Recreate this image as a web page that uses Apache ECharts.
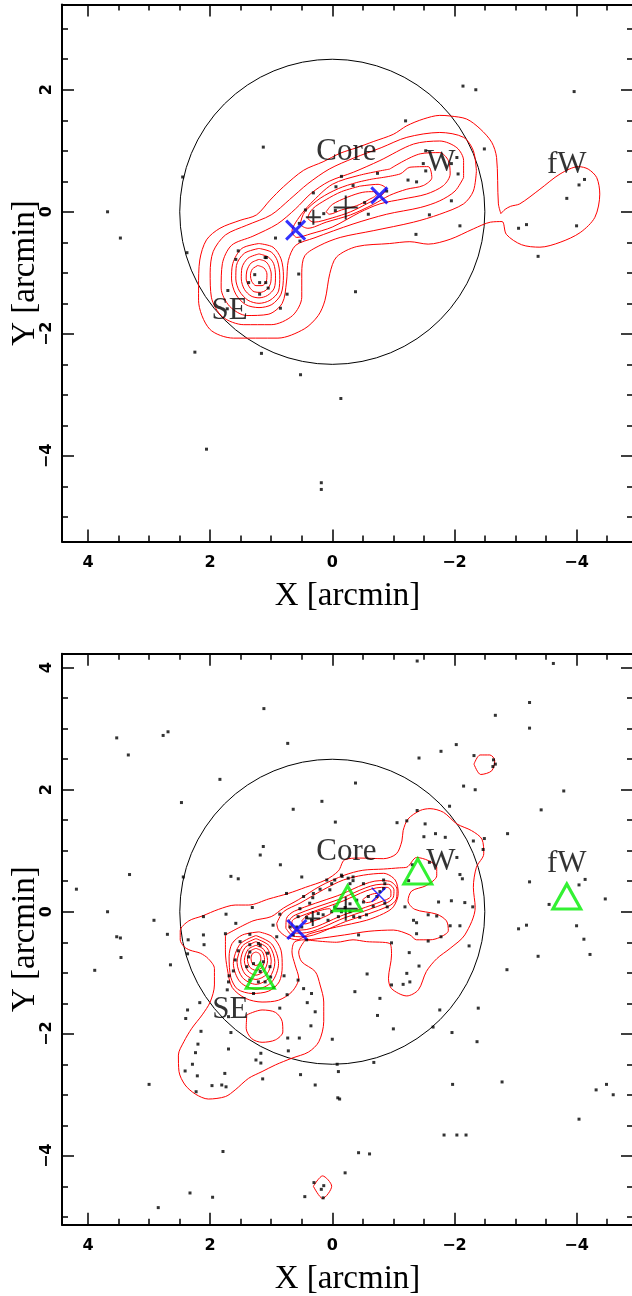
<!DOCTYPE html>
<html lang="en">
<head>
<meta charset="UTF-8">
<title>Core / W / fW / SE maps</title>
<script src="https://cdn.jsdelivr.net/npm/echarts@6/dist/echarts.min.js"></script>
<style>
  html, body { margin: 0; padding: 0; background: #fff; }
  #main { width: 632px; height: 1296px; }
</style>
</head>
<body>
<div id="main"></div>
<script>
// axis limits and ticks, arcmin
var xLimits = [-4.924, 4.426];
var yLimitsTop = [-5.403, 3.397];
var yLimitsBottom = [-5.13, 4.23];
var xMajorTicks = [-4, -2, 0, 2, 4];
var xMinorTicks = [-4.5, -3.5, -3, -2.5, -1.5, -1, -0.5, 0.5, 1, 1.5, 2.5, 3, 3.5];
var yMajorTicksTop = [-4, -2, 0, 2];
var yMinorTicksTop = [-5, -4.5, -3.5, -3, -2.5, -1.5, -1, -0.5, 0.5, 1, 1.5, 2.5, 3];
var yMajorTicksBottom = [-4, -2, 0, 2, 4];
var yMinorTicksBottom = [-5, -4.5, -3.5, -3, -2.5, -1.5, -1, -0.5, 0.5, 1, 1.5, 2.5, 3, 3.5];

var circleCenter = [0, 0];
var circleRadius = 2.5;

// galaxies, upper map
var dotsTop = [
  [1.13,1.06],[2.45,0.57],[3.68,0.0],[3.47,-0.43],[2.38,-0.67],[0.31,0.31],[-0.06,0.41],[-0.15,0.58],
  [0.44,0.03],[0.14,-0.03],[-0.05,0.02],[0.54,-0.19],[0.53,-0.48],[0.93,-0.43],[1.54,-0.64],[1.58,-0.78],
  [1.1,-0.75],[1.08,-0.75],[1.27,-1.03],[1.19,-1.16],[1.09,-1.16],[1.05,-1.25],[1.37,-1.16],[1.71,-1.29],
  [1.19,-1.35],[0.74,-1.35],[0.55,-1.02],[-1.2,1.49],[-2.49,1.03],[-1.53,1.0],[-2.04,0.89],[-1.49,0.79],
  [-1.95,0.79],[-1.53,0.67],[-2.06,0.62],[-0.74,0.63],[-1.24,0.52],[-1.38,0.49],[-0.34,0.43],[-0.89,0.34],
  [-1.95,0.18],[-0.53,0.15],[-0.59,-0.04],[-1.59,-0.05],[-2.09,-0.23],[-1.37,-0.37],[-0.38,-1.31],[0.85,-1.58],
  [1.72,-1.59],[-2.14,2.06],[-2.35,2.0],[-3.96,1.97],[-3.84,0.22],[-4.04,0.44],[-4.13,0.53],[-4.0,-0.23],
  [-3.05,-0.27],[-3.18,-0.21],[-3.37,-0.73],[2.25,-2.3],[1.16,-2.32],[0.52,-2.67],[-0.14,-3.06],[2.06,-3.89],
  [0.18,-4.44],[0.18,-4.55]
];

// galaxies, lower map
var dotsBottom = [
  [-0.38,2.11],[-2.15,2.06],[-2.34,2.0],[2.47,1.79],[0.17,1.81],[0.64,1.68],[-1.92,1.73],[-0.05,1.47],
  [-1.06,1.46],[-1.22,1.49],[-1.52,1.44],[-1.69,1.28],[-1.5,1.23],[-1.85,1.22],[-2.31,1.16],[-2.49,1.2],
  [-2.47,1.02],[1.13,1.07],[1.18,0.93],[0.85,0.77],[1.66,0.58],[1.54,0.54],[0.5,0.57],[2.44,0.57],
  [-2.09,0.61],[-2.13,0.54],[-0.34,0.57],[-0.16,0.58],[2.92,-0.14],[2.7,-0.37],[2.65,-0.87],[2.11,-0.08],
  [2.11,-0.38],[1.74,-0.04],[1.58,-0.19],[1.75,-0.36],[1.31,0.07],[1.35,-0.37],[1.35,-0.54],[1.21,-0.52],
  [0.97,-0.22],[0.86,-0.04],[0.91,-0.41],[0.75,0.3],[0.47,0.25],[0.31,0.3],[0.09,0.52],[-0.15,0.6],
  [0.01,0.46],[-0.29,0.46],[-0.86,0.46],[-1.19,0.08],[-1.74,0.16],[-1.95,0.18],[-2.17,0.15],[-2.3,0.08],
  [-1.57,-0.05],[-1.71,-0.07],[-1.33,-0.14],[-1.38,-0.18],[-1.93,-0.23],[-2.09,-0.23],[-0.97,-0.51],[-1.38,-0.36],
  [-1.57,-0.48],[-1.78,-0.41],[-1.26,-0.67],[-0.43,-0.38],[-1.22,-1.01],[-1.27,-1.15],[-1.16,-1.19],[-0.97,-1.2],
  [-0.57,-1.02],[-0.37,-1.31],[-0.78,-1.42],[-2.39,-1.58],[-1.76,-1.61],[0.41,-1.49],[0.86,-1.58],[0.34,-1.34],
  [0.56,-1.12],[0.79,-1.05],[0.47,-1.26],[1.72,-1.28],[1.7,-1.15],[1.69,-1.05],[2.17,-1.49],[2.37,-1.61],
  [2.4,-1.75],[1.51,-0.49],[1.35,-0.66],[1.18,-0.55],[1.06,-0.68],[1.37,-0.74],[1.29,-0.85],[1.4,-0.9],
  [1.13,-0.82],[1.02,-0.9],[1.18,-0.98],[1.1,-1.15],[1.21,-1.15],[1.35,-1.12],[1.01,-1.07],[1.29,-1.34],
  [0.96,-1.24],[1.59,-0.79],[1.62,-0.97],[1.54,-0.64],[0.42,-0.09],[0.56,-0.08],[0.58,-0.25],[0.5,-0.25],
  [0.34,-0.14],[0.23,-0.03],[0.15,-0.05],[0.01,0.0],[-0.04,0.08],[-0.21,0.07],[-0.29,0.13],[-0.4,0.19],
  [-0.51,0.16],[-0.59,0.25],[-0.29,0.0],[-0.35,-0.08],[-0.45,-0.09],[-0.56,-0.05],[-0.67,0.09],[-0.73,0.25],
  [-0.78,0.33],[-0.84,0.38],[-0.86,0.14],[-0.9,0.08],[-0.51,0.46],[-0.84,0.52],[-0.15,0.0],[-0.1,-0.08],
  [-0.34,0.51],[-0.04,0.52],[-0.26,0.55],[0.04,0.36],[0.2,0.37],[0.32,0.23],[0.37,0.14],[0.53,0.05],
  [0.69,-0.25],[0.64,-0.38],[0.42,-0.46],[0.07,-0.14],[-1.39,1.66],[-2.04,0.89],[-1.31,0.77],[-1.59,0.81],
  [-1.25,0.51],[2.36,-0.46],[2.1,-0.54],[2.37,-0.69],[1.7,-1.72],[0.28,-1.64],[0.74,-1.36],[-2.24,-0.56],
  [-1.42,-0.89],[-0.74,-1.7],
  [1.12,3.33],[3.53,2.85],[2.77,2.89],[2.69,2.95],[3.34,2.57],[0.73,2.76],[1.84,2.17],[3.32,0.61],
  [4.19,0.37],[3.68,0.0],[3.53,-0.41],[3.47,-0.43],
  [-1.39,4.11],[-3.62,4.07],[-3.23,3.43],[-3.23,3.01],[-2.67,3.22],[-2.03,2.74],[-1.78,2.63],[-1.42,2.52],
  [-2.32,2.56],[-2.64,2.49],[-2.67,2.42],[-2.63,2.38],[-3.79,1.98],[-2.87,1.28],[-3.42,1.67],[-3.23,0.49],
  [-4.04,0.44],[-4.14,0.53],[-4.47,0.21],[-3.55,0.12],[-3.05,-0.28],[-3.18,-0.22],[-4.0,-0.23],[-4.12,-0.45],
  [3.46,-0.75],[3.89,-0.96],[2.15,-1.96],[2.2,-2.17],[2.24,-2.31],[2.29,-2.5],[2.41,-2.61],[2.21,-2.69],
  [2.23,-2.95],[3.0,-2.83],[1.97,-2.85],[1.81,-2.84],[1.74,-2.87],[1.76,-2.65],[1.7,-2.25],[1.66,-1.98],
  [1.25,-2.43],[1.17,-2.48],[1.17,-2.32],[1.14,-2.74],[0.72,-2.28],[0.73,-2.07],[0.54,-2.07],[0.35,-1.87],
  [0.0,-2.09],[0.52,-2.67],[0.28,-2.84],[-0.08,-2.5],[-0.1,-2.62],[-0.09,-3.05],[-0.12,-3.07],[1.79,-3.93],
  [-0.21,-4.28],[0.3,-4.44],[0.18,-4.55],[0.14,-4.49],[0.45,-4.67],[0.15,-4.69],[2.33,-4.61],[1.96,-4.68],
  [2.85,-4.85],
  [-1.65,-1.89],[-1.96,-1.98],[-2.37,-2.13],[-2.86,-0.95],[-3.37,-0.73],[-4.22,-0.7],[-0.68,-2.47],[-1.97,-2.83],
  [-2.78,-2.79],[-1.83,-3.66],[-2.04,-3.66],[-2.19,-3.66],[-0.43,-3.95],[-0.61,-3.97],[-4.04,-3.4],[-4.32,-2.92],
  [-4.49,-2.83],[-4.6,-3.0],[-1.0,-1.92]
];

// markers
var bigPlusTop = [[-0.22, 0.07]];
var smallPlusTop = [[0.31, -0.09]];
var bigCrossTop = [[0.6, -0.3]];
var smallCrossTop = [[-0.77, 0.27]];
var bigPlusBottom = [[-0.22, 0.05]];
var smallPlusBottom = [[0.32, -0.11]];
var bigCrossBottom = [[0.58, -0.29]];
var smallCrossBottom = [[-0.76, 0.28]];
var trianglesBottom = [[-0.25, 0.22], [-1.40, 0.66], [-3.84, 0.25], [1.18, -1.05]];

var labelNames = ['Core', 'W', 'fW', 'SE'];
var labelPosTop = [[-0.23, 0.98], [-1.78, 0.8], [-3.84, 0.77], [1.68, -1.62]];
var labelPosBottom = [[-0.23, 0.98], [-1.78, 0.82], [-3.84, 0.78], [1.67, -1.61]];

// density contours, upper map
var contoursTop = [
  [[-2.76,-0.03],[-2.83,0.04],[-2.92,0.09],[-3.07,0.13],[-3.4,0.37],[-3.73,0.62],[-4.03,0.74],[-4.19,0.7],
   [-4.33,0.56],[-4.38,0.29],[-4.3,-0.09],[-4.06,-0.34],[-3.73,-0.5],[-3.4,-0.58],[-3.1,-0.54],[-2.85,-0.37],
   [-2.78,-0.16],[-2.59,-0.17],[-2.31,-0.28],[-1.93,-0.45],[-1.57,-0.53],[-1.27,-0.49],[-0.94,-0.52],[-0.4,-0.57],
   [-0.07,-0.74],[0.04,-1.01],[0.12,-1.45],[0.23,-1.7],[0.46,-1.92],[0.89,-2.07],[1.62,-2.07],[2.01,-1.92],
   [2.19,-1.45],[2.19,-1.23],[2.17,-0.79],[2.06,-0.46],[1.84,-0.27],[1.51,-0.14],[1.24,-0.05],[1.02,0.19],
   [0.8,0.41],[0.47,0.68],[0.15,0.82],[-0.13,0.96],[-0.4,1.05],[-0.67,1.15],[-1.0,1.27],[-1.22,1.41],
   [-1.49,1.52],[-1.76,1.58],[-1.93,1.57],[-2.2,1.52],[-2.42,1.36],[-2.61,1.14],[-2.69,0.89],[-2.72,0.13],[-2.76,-0.03]],
  [[-2.36,0.67],[-2.31,1.0],[-2.15,1.22],[-1.76,1.3],[-1.22,1.22],[-0.8,1.05],[-0.35,0.88],[0.05,0.7],
   [0.4,0.46],[0.7,0.2],[1.0,-0.05],[1.4,-0.22],[1.75,-0.38],[1.95,-0.65],[2.0,-1.0],[1.98,-1.4],
   [1.8,-1.72],[1.45,-1.85],[1.0,-1.85],[0.65,-1.7],[0.5,-1.4],[0.5,-1.0],[0.45,-0.72],[0.2,-0.55],
   [-0.13,-0.42],[-0.67,-0.31],[-1.33,-0.17],[-1.76,-0.04],[-2.15,0.13],[-2.31,0.34],[-2.36,0.67]],
  [[-2.15,0.56],[-2.15,0.84],[-2.04,1.05],[-1.76,1.16],[-1.33,1.11],[-0.78,0.84],[-0.35,0.65],[0.05,0.5],
   [0.35,0.3],[0.6,0.05],[0.9,-0.2],[1.3,-0.4],[1.65,-0.55],[1.8,-0.85],[1.82,-1.25],[1.68,-1.55],
   [1.4,-1.7],[1.05,-1.68],[0.82,-1.5],[0.75,-1.15],[0.72,-0.8],[0.6,-0.55],[0.3,-0.43],[-0.34,-0.2],
   [-0.89,-0.04],[-1.44,0.07],[-1.76,0.18],[-2.01,0.34],[-2.15,0.56]],
  [[-0.94,0.7],[-1.44,0.95],[-1.76,0.97],[-1.9,0.84],[-1.93,0.62],[-1.82,0.43],[-1.54,0.29],[-1.16,0.21],
   [-0.78,0.13],[-0.45,-0.01],[0.0,-0.25],[0.35,-0.36],[0.58,-0.42],[0.66,-0.32],[0.55,-0.1],[0.35,0.14],
   [0.0,0.45],[-0.45,0.6],[-0.94,0.7]],
  [[-0.67,0.54],[-1.11,0.62],[-1.27,0.73],[-1.57,0.74],[-1.63,0.56],[-1.49,0.43],[-1.22,0.37],[-0.94,0.27],
   [-0.67,0.12],[-0.3,-0.05],[0.1,-0.17],[0.4,-0.27],[0.52,-0.2],[0.45,0.0],[0.2,0.22],[-0.1,0.38],
   [-0.4,0.48],[-0.67,0.54]],
  [[-0.45,0.42],[-0.75,0.45],[-0.88,0.38],[-0.82,0.28],[-0.6,0.15],[-0.3,0.0],[0.0,-0.1],[0.3,-0.17],
   [0.4,-0.1],[0.32,0.05],[0.1,0.2],[-0.15,0.33],[-0.45,0.42]],
  [[0.1,0.0],[0.0,0.12],[-0.25,0.24],[-0.5,0.32],[-0.68,0.33],[-0.72,0.28],[-0.6,0.2],[-0.4,0.1],
   [-0.15,0.03],[0.05,-0.04],[0.1,0.0]],
  [[1.2,-0.52],[1.48,-0.6],[1.63,-0.85],[1.65,-1.1],[1.58,-1.35],[1.42,-1.52],[1.2,-1.57],[0.99,-1.52],
   [0.84,-1.35],[0.8,-1.05],[0.84,-0.77],[0.97,-0.58],[1.2,-0.52]],
  [[1.2,-0.6],[1.44,-0.68],[1.57,-0.88],[1.58,-1.1],[1.52,-1.3],[1.38,-1.45],[1.2,-1.5],[1.02,-1.45],
   [0.88,-1.3],[0.86,-1.05],[0.9,-0.8],[1.0,-0.66],[1.2,-0.6]],
  [[1.2,-0.69],[1.38,-0.76],[1.48,-0.92],[1.49,-1.1],[1.44,-1.27],[1.33,-1.38],[1.2,-1.41],[1.06,-1.37],
   [0.95,-1.25],[0.93,-1.05],[0.96,-0.85],[1.05,-0.74],[1.2,-0.69]],
  [[1.2,-0.78],[1.33,-0.84],[1.4,-0.97],[1.41,-1.1],[1.36,-1.23],[1.28,-1.31],[1.18,-1.32],[1.08,-1.28],
   [1.01,-1.17],[1.0,-1.02],[1.04,-0.88],[1.1,-0.81],[1.2,-0.78]],
  [[1.22,-0.88],[1.31,-0.94],[1.34,-1.04],[1.32,-1.14],[1.25,-1.21],[1.15,-1.21],[1.08,-1.14],[1.07,-1.02],
   [1.12,-0.92],[1.22,-0.88]]
];

// density contours, lower map
var contoursBottom = [
  [[0.44,-0.46],[-0.07,-0.5],[-0.34,-0.46],[-0.56,-0.49],[-0.94,-0.52],[-0.97,-0.71],[-0.92,-1.09],[-0.97,-1.26],
   [-1.22,-1.38],[-1.41,-1.28],[-1.54,-0.98],[-1.71,-0.77],[-1.93,-0.6],[-2.17,-0.38],[-2.34,0.07],[-2.31,0.4],
   [-2.36,0.73],[-2.48,0.95],[-2.45,1.19],[-2.28,1.33],[-2.04,1.44],[-1.82,1.63],[-1.6,1.69],[-1.44,1.66],
   [-1.24,1.52],[-1.16,1.33],[-1.14,1.16],[-1.05,0.95],[-0.84,0.87],[-0.45,0.88],[-0.2,0.85],[-0.1,0.67],
   [0.11,0.52],[0.44,0.4],[0.72,0.3],[1.04,0.21],[1.37,0.11],[1.59,0.11],[1.86,0.04],[2.13,-0.07],
   [2.35,-0.15],[2.49,-0.31],[2.49,-0.46],[2.43,-0.57],[2.33,-0.63],[2.16,-0.68],[2.03,-0.77],[1.93,-0.93],
   [1.93,-1.2],[2.0,-1.48],[2.13,-1.69],[2.3,-1.91],[2.43,-2.13],[2.52,-2.35],[2.51,-2.62],[2.41,-2.84],
   [2.24,-2.99],[2.03,-3.07],[1.75,-3.03],[1.59,-2.92],[1.37,-2.73],[1.15,-2.62],[0.93,-2.51],[0.66,-2.4],
   [0.39,-2.3],[0.22,-2.13],[0.14,-1.8],[0.14,-1.48],[0.2,-1.2],[0.28,-0.98],[0.5,-0.82],[0.55,-0.66],[0.44,-0.46]],
  [[1.75,-0.38],[1.3,-0.15],[1.0,-0.08],[0.8,0.06],[0.55,0.2],[0.2,0.42],[-0.2,0.6],[-0.5,0.68],
   [-0.84,0.7],[-1.1,0.72],[-1.22,0.73],[-1.38,0.89],[-1.57,0.84],[-1.71,0.73],[-1.71,0.59],[-1.54,0.43],
   [-1.3,0.34],[-1.24,0.18],[-1.35,0.04],[-1.71,-0.04],[-1.87,-0.15],[-1.9,-0.31],[-1.76,-0.42],[-1.6,-0.46],
   [-1.38,-0.46],[-1.27,-0.38],[-1.0,-0.3],[-0.6,-0.32],[-0.2,-0.38],[0.3,-0.45],[0.61,-0.49],[0.66,-0.66],
   [0.61,-0.87],[0.55,-1.09],[0.66,-1.31],[0.88,-1.45],[1.15,-1.48],[1.42,-1.42],[1.64,-1.24],[1.72,-0.93],
   [1.75,-0.66],[1.75,-0.38]],
  [[0.91,-0.19],[0.8,0.0],[0.53,0.14],[0.15,0.36],[-0.18,0.52],[-0.51,0.6],[-0.84,0.63],[-1.03,0.52],
   [-1.08,0.3],[-1.0,0.08],[-0.84,-0.03],[-0.56,-0.14],[-0.07,-0.25],[0.37,-0.36],[0.58,-0.46],[0.75,-0.41],
   [0.88,-0.3],[0.91,-0.19]],
  [[0.76,-0.27],[0.75,-0.11],[0.62,0.01],[-0.08,0.26],[-0.78,0.51],[-0.94,0.5],[-1.06,0.37],[-1.05,0.21],
   [-0.92,0.09],[-0.22,-0.16],[0.48,-0.41],[0.64,-0.4],[0.76,-0.27]],
  [[0.71,-0.26],[0.7,-0.14],[0.6,-0.05],[-0.1,0.2],[-0.8,0.45],[-0.92,0.45],[-1.01,0.36],[-1.0,0.24],
   [-0.9,0.15],[-0.2,-0.1],[0.5,-0.35],[0.62,-0.35],[0.71,-0.26]],
  [[0.66,-0.24],[0.66,-0.16],[0.59,-0.1],[-0.11,0.15],[-0.81,0.4],[-0.9,0.4],[-0.96,0.34],[-0.96,0.26],
   [-0.89,0.2],[-0.19,-0.05],[0.51,-0.3],[0.6,-0.3],[0.66,-0.24]],
  [[0.5,-0.15],[0.4,-0.05],[0.2,0.02],[0.05,0.05],[0.0,0.0],[0.1,-0.07],[0.3,-0.15],[0.45,-0.2],[0.5,-0.15]],
  [[-0.5,0.2],[-0.6,0.27],[-0.72,0.3],[-0.76,0.25],[-0.68,0.18],[-0.56,0.15],[-0.5,0.2]],
  [[1.2,-0.33],[1.47,-0.38],[1.64,-0.52],[1.69,-0.74],[1.66,-1.08],[1.55,-1.27],[1.31,-1.34],[1.04,-1.3],
   [0.87,-1.15],[0.82,-0.9],[0.84,-0.63],[0.98,-0.41],[1.2,-0.33]],
  [[1.25,-0.39],[1.51,-0.53],[1.62,-0.85],[1.51,-1.15],[1.25,-1.27],[0.99,-1.15],[0.88,-0.85],[0.99,-0.53],[1.25,-0.39]],
  [[1.25,-0.44],[1.47,-0.56],[1.56,-0.83],[1.47,-1.08],[1.25,-1.19],[1.03,-1.08],[0.94,-0.83],[1.03,-0.56],[1.25,-0.44]],
  [[1.25,-0.49],[1.43,-0.59],[1.5,-0.81],[1.43,-1.02],[1.25,-1.11],[1.07,-1.02],[1.0,-0.81],[1.07,-0.59],[1.25,-0.49]],
  [[1.25,-0.55],[1.38,-0.62],[1.44,-0.8],[1.38,-0.97],[1.25,-1.04],[1.12,-0.97],[1.06,-0.8],[1.12,-0.62],[1.25,-0.55]],
  [[1.25,-0.6],[1.35,-0.65],[1.39,-0.78],[1.35,-0.91],[1.25,-0.96],[1.15,-0.91],[1.11,-0.78],[1.15,-0.65],[1.25,-0.6]],
  [[1.25,-0.66],[1.31,-0.69],[1.33,-0.77],[1.31,-0.85],[1.25,-0.88],[1.19,-0.85],[1.17,-0.77],[1.19,-0.69],[1.25,-0.66]],
  [[1.4,-1.69],[1.15,-1.61],[0.93,-1.65],[0.82,-1.8],[0.81,-1.97],[0.93,-2.1],[1.15,-2.14],[1.32,-2.08],[1.41,-1.91],[1.4,-1.69]],
  [[-2.32,2.42],[-2.42,2.57],[-2.58,2.57],[-2.66,2.48],[-2.61,2.31],[-2.43,2.25],[-2.32,2.42]],
  [[0.31,-4.5],[0.16,-4.33],[0.01,-4.5],[0.16,-4.7],[0.31,-4.5]]
];

var chart = echarts.init(document.getElementById('main'), null, { renderer: 'canvas' });

function tickText(v) {
  return String(v).replace('-', '\u2212');
}

function makeAxes(dim, gi, lim, major, minor, name) {
  var pos = dim === 'x' ? ['bottom', 'bottom', 'top', 'top'] : ['left', 'left', 'right', 'right'];
  var out = [];
  for (var k = 0; k < 4; k++) {
    var isMajor = k % 2 === 0;
    var ax = {
      type: 'value', gridIndex: gi, position: pos[k],
      min: lim[0], max: lim[1], inverse: dim === 'x',
      splitLine: { show: false },
      axisLine: { show: isMajor, onZero: false, lineStyle: { color: '#000', width: 2 } },
      axisTick: {
        show: true, inside: true, length: isMajor ? 12 : 6,
        customValues: isMajor ? major : minor,
        lineStyle: { color: '#000', width: 1.5 }
      },
      axisLabel: { show: false }
    };
    if (k === 0) {
      ax.axisLabel = {
        show: true, customValues: major, formatter: tickText,
        color: '#000', fontFamily: 'DejaVu Sans', fontSize: 16, fontWeight: 'bold',
        margin: dim === 'x' ? 13 : 7, rotate: dim === 'x' ? 0 : 90
      };
      ax.name = name;
      ax.nameLocation = 'middle';
      ax.nameGap = dim === 'x' ? 38 : 20;
      ax.nameRotate = dim === 'x' ? 0 : 90;
      if (dim === 'y') ax.nameMoveOverlap = false;
      ax.nameTextStyle = { fontFamily: 'Liberation Serif', fontSize: 33, color: '#000' };
    }
    out.push(ax);
  }
  return out;
}

function panelSeries(gi, dots, rings, bigPlus, smallPlus, bigCross, smallCross, smallCrossThin, labels, triangles) {
  var ax = { xAxisIndex: gi * 4, yAxisIndex: gi * 4 };
  var list = [];
  rings.forEach(function (r) {
    list.push(Object.assign({
      type: 'line', data: r, symbol: 'none', smooth: 0.3, silent: true, z: 2,
      lineStyle: { color: '#ff0000', width: 1 }
    }, ax));
  });
  list.push(Object.assign({
    type: 'custom', silent: true, z: 2,
    data: [[circleCenter[0], circleCenter[1], circleRadius]],
    renderItem: function (params, api) {
      var c = api.coord([api.value(0), api.value(1)]);
      var s = api.size([api.value(2), api.value(2)]);
      return {
        type: 'circle',
        shape: { cx: c[0], cy: c[1], r: Math.abs(s[1]) },
        style: { fill: 'none', stroke: '#000', lineWidth: 1 }
      };
    }
  }, ax));
  list.push(Object.assign({
    type: 'scatter', data: dots, symbol: 'rect', symbolSize: 3, silent: true, z: 3,
    itemStyle: { color: '#000' }
  }, ax));
  var plusPath = 'path://M10,0L10,20M0,10L20,10';
  var crossPath = 'path://M0,0L20,20M20,0L0,20';
  list.push(Object.assign({
    type: 'scatter', data: bigPlus, symbol: plusPath, symbolSize: 24, silent: true, z: 4,
    itemStyle: { color: 'transparent', borderColor: '#000', borderWidth: 2 }
  }, ax));
  list.push(Object.assign({
    type: 'scatter', data: smallPlus, symbol: plusPath, symbolSize: 15, silent: true, z: 4,
    itemStyle: { color: 'transparent', borderColor: '#000', borderWidth: 2 }
  }, ax));
  list.push(Object.assign({
    type: 'scatter', data: bigCross, symbol: crossPath, symbolSize: 19, silent: true, z: 5,
    itemStyle: { color: 'transparent', borderColor: '#0000ff', borderWidth: 3 }
  }, ax));
  list.push(Object.assign({
    type: 'scatter', data: smallCross, symbol: crossPath, symbolSize: smallCrossThin ? 14 : 16, silent: true, z: 5,
    itemStyle: { color: 'transparent', borderColor: '#0000ff', borderWidth: smallCrossThin ? 1.5 : 3 }
  }, ax));
  if (triangles) {
    list.push(Object.assign({
      type: 'scatter', data: triangles, symbol: 'triangle', symbolSize: [28, 25], silent: true, z: 6,
      itemStyle: { color: 'transparent', borderColor: '#00ee00', borderWidth: 3 }
    }, ax));
  }
  list.push(Object.assign({
    type: 'scatter', silent: true, z: 7, symbolSize: 1,
    itemStyle: { color: 'transparent' },
    data: labelNames.map(function (n, i) { return { name: n, value: labels[i] }; }),
    label: {
      show: true, position: 'inside', formatter: '{b}',
      fontFamily: 'Liberation Serif', fontSize: 31, color: '#000'
    }
  }, ax));
  return list;
}

var option = {
  animation: false,
  backgroundColor: '#fff',
  grid: [
    { left: 62, top: 4.5, width: 571, height: 537, outerBoundsMode: 'none' },
    { left: 62, top: 653.7, width: 571, height: 571, outerBoundsMode: 'none' }
  ],
  xAxis: makeAxes('x', 0, xLimits, xMajorTicks, xMinorTicks, 'X [arcmin]')
    .concat(makeAxes('x', 1, xLimits, xMajorTicks, xMinorTicks, 'X [arcmin]')),
  yAxis: makeAxes('y', 0, yLimitsTop, yMajorTicksTop, yMinorTicksTop, 'Y [arcmin]')
    .concat(makeAxes('y', 1, yLimitsBottom, yMajorTicksBottom, yMinorTicksBottom, 'Y [arcmin]')),
  series: panelSeries(0, dotsTop, contoursTop, bigPlusTop, smallPlusTop, bigCrossTop, smallCrossTop, false, labelPosTop, null)
    .concat(panelSeries(1, dotsBottom, contoursBottom, bigPlusBottom, smallPlusBottom, bigCrossBottom, smallCrossBottom, true, labelPosBottom, trianglesBottom))
};

chart.setOption(option);
</script>
</body>
</html>
